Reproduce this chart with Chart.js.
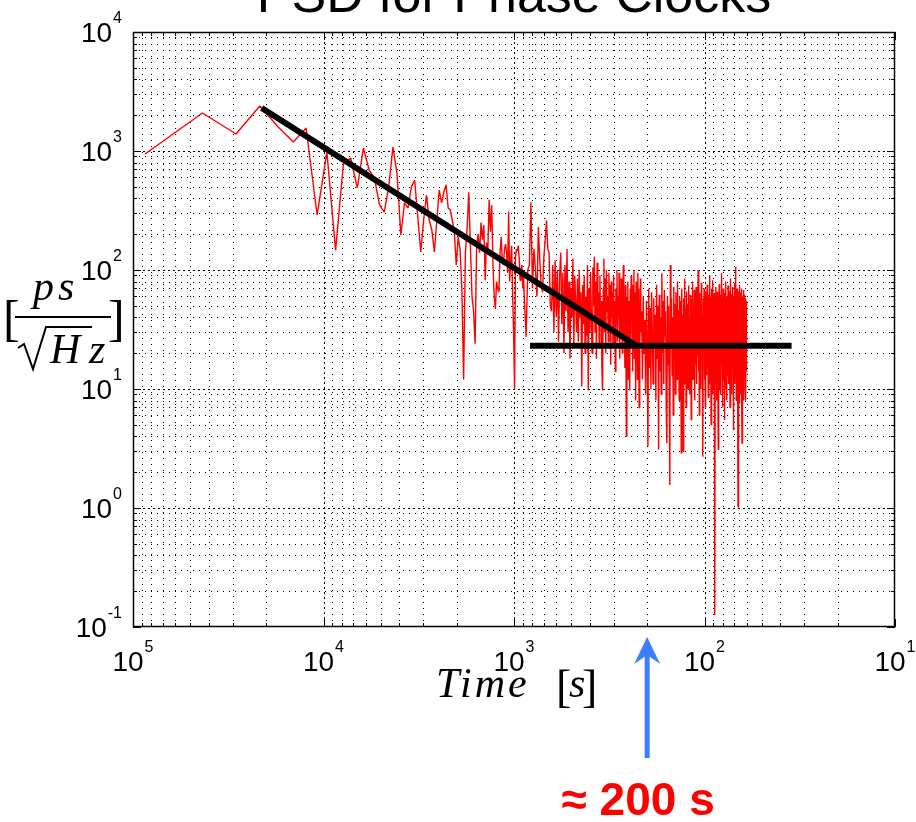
<!DOCTYPE html>
<html><head><meta charset="utf-8">
<script src="https://cdn.jsdelivr.net/npm/chart.js@4.4.1/dist/chart.umd.min.js"></script>
<style>html,body{margin:0;padding:0;background:#fff;}canvas{display:block;}</style>
</head><body>
<canvas id="c" width="916" height="822" style="width:916px;height:822px"></canvas>
<script>
// ---- data ----
const DAY_SECONDS = 86400;           // record length; period of bin k = DAY_SECONDS / k
// bins k = 1..100
const psdFine = [
  944, 2085, 1390, 2390, 1590, 1190, 1560, 290, 980, 147,
  792, 873, 489, 1060, 690, 593, 352, 307, 497, 1080,
  653, 197, 366, 332, 497, 570, 279, 142, 263, 427,
  263, 217, 142, 263, 470, 366, 452, 520, 332, 320,
  260, 210, 110, 190, 150, 70, 12, 140, 220, 450,
  160, 60, 45, 24, 160, 200, 140, 250, 180, 240,
  82, 170, 150, 390, 210, 350, 110, 60, 47, 80,
  70, 65, 140, 190, 120, 110, 150, 165, 140, 95,
  310, 80, 120, 160, 60, 30, 10, 130, 150, 145,
  160, 125, 82, 100, 110, 70, 90, 55, 40, 27.5
];
// bins k = 102..400, every 2nd bin
const psdMid = [
  100, 110, 370, 70, 150, 100, 60, 230, 120, 75, 65, 130, 180, 260, 150, 140, 50, 45, 110, 30, 120, 40, 100, 25, 90,
  140, 35, 95, 20, 110, 45, 150, 30, 80, 18, 70, 40, 125, 22, 90, 55, 30, 85, 25, 100, 40, 65, 10.5, 75, 35,
  90, 20, 60, 28, 110, 9.7, 70, 30, 95, 45, 20, 105, 50, 129, 30, 80, 18, 115, 40, 65, 22, 90, 35, 55, 15,
  9.7, 70, 125, 30, 85, 20, 100, 45, 60, 25, 95, 35, 75, 16, 80, 40, 65, 22, 90, 30, 55, 14, 70, 35, 100,
  25, 60, 40, 95, 18, 70, 30, 85, 45, 20, 65, 110, 28, 55, 15, 75, 35, 4.0, 60, 25, 80, 12, 55, 30, 9.7,
  70, 22, 90, 40, 60, 14, 75, 30, 100, 18, 65, 35, 8, 80, 25, 55, 12, 95, 40, 70, 7, 50, 20, 85, 30
];
// bins k = 404..1440, every 4th bin
const psdDense = [
  45, 12, 60, 20, 38, 9, 55, 25, 3.3, 70,
  15, 48, 10, 65, 30, 11, 58, 22, 42, 8,
  75, 18, 50, 3.1, 62, 14, 40, 9, 94, 20,
  55, 11, 68, 28, 45, 7, 3.5, 60, 16, 50,
  10, 1.56, 110, 22, 58, 13, 40, 6, 72, 19,
  52, 9, 65, 30, 12, 80, 17, 46, 8, 60,
  24, 55, 2.9, 70, 14, 42, 3.0, 58, 11, 85,
  20, 48, 7, 66, 26, 52, 10, 74, 15, 40,
  9, 62, 33, 5.5, 57, 18, 80, 12, 45, 22,
  68, 8, 50, 16, 72, 28, 11, 60, 19, 100,
  14, 55, 6, 64, 24, 48, 10, 78, 20, 42,
  9, 2.7, 58, 30, 70, 12, 50, 7, 66, 21,
  46, 13, 75, 26, 55, 8.5, 62, 17, 40, 90,
  11, 60, 22, 5, 70, 30, 52, 9, 82, 16,
  44, 10, 64, 25, 0.126, 58, 12, 72, 20, 48,
  8, 66, 28, 14, 3.1, 55, 18, 76, 10, 50,
  24, 62, 9, 45, 16, 94, 30, 7, 58, 20,
  70, 12, 48, 26, 5.5, 64, 15, 52, 10, 80,
  22, 42, 8, 60, 32, 13, 74, 18, 55, 11,
  66, 25, 47, 7, 85, 20, 40, 12, 63, 28,
  9, 56, 16, 72, 30, 4.5, 60, 14, 50, 22,
  78, 11, 44, 106, 18, 62, 8, 54, 26, 70,
  13, 48, 20, 1.02, 66, 10, 58, 30, 7.5, 75,
  16, 52, 24, 64, 9, 45, 18, 70, 12, 3.5,
  60, 22, 48, 11, 68, 28, 8, 55, 15, 62,
  20, 50, 10, 58, 26, 8, 45, 14, 55, 30
];
// fitted power-law lines (black)
const fitSlopePeriods = [21110, 227];
const fitSlopeValues  = [2297, 23.1];
const fitFlatPeriods  = [824, 34.9];
const fitFlatValues   = [23.1, 23.1];
// axis tick labels: decades
const xDecadeExps = [5, 4, 3, 2, 1];
const yDecadeExps = [-1, 0, 1, 2, 3, 4];
const minorMults = [2, 3, 4, 5, 6, 7, 8, 9];
// annotation
const arrowPeriod = 200;
const titleText = 'PSD for Phase Clocks';
const noteText = '\u2248 200 s';

// ---- build datasets ----
function binSeries(values, kStart, kStep) {
  return values.map((v, i) => ({ x: DAY_SECONDS / (kStart + i * kStep), y: v }));
}
const redPoints = [].concat(binSeries(psdFine, 1, 1), binSeries(psdMid, 102, 2), binSeries(psdDense, 404, 4));
const slopePts = fitSlopePeriods.map((p, i) => ({ x: p, y: fitSlopeValues[i] }));
const flatPts = fitFlatPeriods.map((p, i) => ({ x: p, y: fitFlatValues[i] }));

const SANS = '"Liberation Sans", Arial, Helvetica, sans-serif';
const SERIF = '"Liberation Serif", "Times New Roman", serif';

function allTickValues(exps) {
  const lo = Math.min(...exps), hi = Math.max(...exps);
  const out = [];
  for (let e = lo; e < hi; e++) {
    out.push({ v: Math.pow(10, e), major: true });
    minorMults.forEach(m => out.push({ v: m * Math.pow(10, e), major: false }));
  }
  out.push({ v: Math.pow(10, hi), major: true });
  return out;
}

const gridPlugin = {
  id: 'matlabGrid',
  beforeDatasetsDraw(chart) {
    const { ctx, chartArea: a, scales: { x, y } } = chart;
    ctx.save();
    ctx.strokeStyle = '#000';
    ctx.lineWidth = 1;
    allTickValues(xDecadeExps).forEach(t => {
      const px = Math.round(x.getPixelForValue(t.v)) + 0.5;
      if (px <= a.left + 1 || px >= a.right - 1) return;
      ctx.setLineDash(t.major ? [2, 3] : [1, 5]);
      ctx.beginPath(); ctx.moveTo(px, a.top); ctx.lineTo(px, a.bottom); ctx.stroke();
    });
    allTickValues(yDecadeExps).forEach(t => {
      const py = Math.round(y.getPixelForValue(t.v)) + 0.5;
      if (py <= a.top + 1 || py >= a.bottom - 1) return;
      ctx.setLineDash(t.major ? [2, 3] : [1, 5]);
      ctx.beginPath(); ctx.moveTo(a.left, py); ctx.lineTo(a.right, py); ctx.stroke();
    });
    ctx.restore();
  },
  afterDatasetsDraw(chart) {
    const { ctx, chartArea: a, scales: { x, y } } = chart;
    ctx.save();
    ctx.strokeStyle = '#000';
    ctx.lineWidth = 1;
    ctx.setLineDash([]);
    ctx.beginPath();
    allTickValues(xDecadeExps).forEach(t => {
      const px = Math.round(x.getPixelForValue(t.v)) + 0.5;
      const L = t.major ? 8 : 4;
      ctx.moveTo(px, a.bottom); ctx.lineTo(px, a.bottom - L);
      ctx.moveTo(px, a.top); ctx.lineTo(px, a.top + L);
    });
    allTickValues(yDecadeExps).forEach(t => {
      const py = Math.round(y.getPixelForValue(t.v)) + 0.5;
      const L = t.major ? 8 : 4;
      ctx.moveTo(a.left, py); ctx.lineTo(a.left + L, py);
      ctx.moveTo(a.right, py); ctx.lineTo(a.right - L, py);
    });
    ctx.stroke();
    ctx.lineWidth = 1.5;
    ctx.strokeRect(a.left + 0.5, a.top + 0.5, a.right - a.left - 1, a.bottom - a.top - 1);
    ctx.restore();
  },
  afterDraw(chart) {
    const { ctx, chartArea: a, scales: { x, y } } = chart;
    ctx.save();
    ctx.fillStyle = '#000';
    ctx.textBaseline = 'alphabetic';
    ctx.textAlign = 'left';
    function drawPow(exp, anchorX, base, mode) {
      ctx.font = '28px ' + SANS;
      const w10 = ctx.measureText('10').width;
      ctx.font = '16px ' + SANS;
      const es = String(exp);
      const we = ctx.measureText(es).width;
      const total = w10 + 1 + we;
      const left = mode === 'center' ? anchorX - total / 2 : anchorX - total;
      ctx.font = '28px ' + SANS;
      ctx.fillText('10', left, base);
      ctx.font = '16px ' + SANS;
      ctx.fillText(es, left + w10 + 1, base - 19);
    }
    yDecadeExps.forEach(e => drawPow(e, 122, y.getPixelForValue(Math.pow(10, e)) + 10, 'right'));
    xDecadeExps.forEach(e => drawPow(e, x.getPixelForValue(Math.pow(10, e)), 671, 'center'));

    // title (cut by the top edge as in the reference)
    ctx.font = '52px ' + SANS;
    ctx.textAlign = 'center';
    ctx.fillText(titleText, (a.left + a.right) / 2, 12);

    // x axis label: Time [s]
    ctx.textAlign = 'left';
    ctx.font = 'italic 42px ' + SERIF;
    ctx.letterSpacing = '3px';
    ctx.fillText('Time', 436, 697);
    ctx.letterSpacing = '0px';
    ctx.font = '46px ' + SERIF;
    ctx.fillText('[', 556, 702);
    ctx.font = 'italic 42px ' + SERIF;
    ctx.fillText('s', 569, 697);
    ctx.font = '46px ' + SERIF;
    ctx.fillText(']', 582, 702);

    // y axis label: [ ps / sqrt(Hz) ]
    ctx.font = '50px ' + SERIF;
    ctx.fillText('[', 3, 335);
    ctx.fillText(']', 108, 335);
    ctx.font = 'italic 42px ' + SERIF;
    ctx.letterSpacing = '4px';
    ctx.fillText('ps', 33, 300);
    ctx.letterSpacing = '0px';
    ctx.fillRect(15, 316, 96, 2);
    ctx.font = 'italic 42px ' + SERIF;
    ctx.fillText('H', 50, 363);
    ctx.fillText('z', 89, 363);
    ctx.lineWidth = 2;
    ctx.strokeStyle = '#000';
    ctx.beginPath();
    ctx.moveTo(18, 348); ctx.lineTo(24, 344); ctx.lineTo(33, 369); ctx.lineTo(46, 327); ctx.lineTo(92, 327);
    ctx.stroke();

    // arrow pointing at ~200 s
    const ax = x.getPixelForValue(arrowPeriod);
    ctx.fillStyle = '#3d7dff';
    ctx.fillRect(ax - 2.5, 654, 5, 104);
    ctx.beginPath();
    ctx.moveTo(ax, 637); ctx.lineTo(ax + 13, 664); ctx.lineTo(ax, 655); ctx.lineTo(ax - 13, 664);
    ctx.closePath(); ctx.fill();

    ctx.fillStyle = '#ff0000';
    ctx.font = 'bold 46px ' + SANS;
    ctx.textAlign = 'center';
    ctx.fillText(noteText, ax - 9, 815);
    ctx.restore();
  }
};

new Chart(document.getElementById('c'), {
  type: 'scatter',
  data: {
    datasets: [
      { label: 'fit slope', data: slopePts, showLine: true, borderColor: '#000', borderWidth: 6, pointRadius: 0, order: 0 },
      { label: 'fit flat', data: flatPts, showLine: true, borderColor: '#000', borderWidth: 6, pointRadius: 0, order: 1 },
      { label: 'PSD', data: redPoints, showLine: true, borderColor: '#ff0000', borderWidth: 1.4, pointRadius: 0,
        borderJoinStyle: 'bevel', tension: 0, order: 2 }
    ]
  },
  options: {
    responsive: false,
    devicePixelRatio: 1,
    animation: false,
    layout: { padding: { left: 133, right: 21, top: 32, bottom: 195 } },
    plugins: { legend: { display: false }, title: { display: false }, tooltip: { enabled: false } },
    scales: {
      x: { type: 'logarithmic', min: 10, max: 100000, reverse: true, display: false },
      y: { type: 'logarithmic', min: 0.1, max: 10000, display: false }
    }
  },
  plugins: [gridPlugin]
});
</script>
</body></html>
